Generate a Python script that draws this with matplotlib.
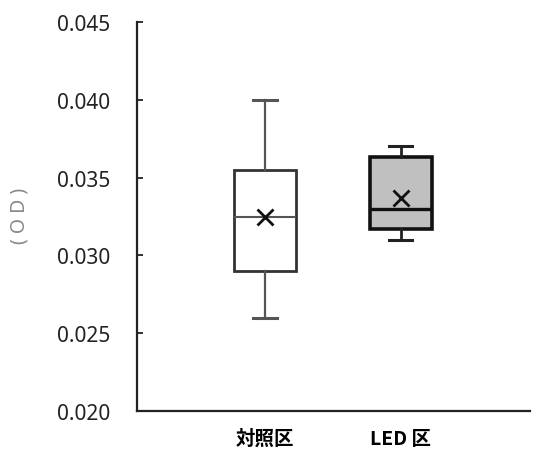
import matplotlib
matplotlib.use("Agg")
import matplotlib.pyplot as plt

categories = ["対照区", "LED 区"]
whislo = [0.0260, 0.0310]
q1 = [0.0290, 0.0317]
med = [0.0325, 0.0330]
q3 = [0.0355, 0.0363]
whishi = [0.0400, 0.0370]
mean = [0.0325, 0.0337]
yticks = [0.020, 0.025, 0.030, 0.035, 0.040, 0.045]
ylabel = "( O D )"

plt.rcParams['font.family'] = ['Noto Sans', 'Noto Sans CJK JP', 'DejaVu Sans']

fig = plt.figure(figsize=(5.35, 4.52), dpi=100)
ax = fig.add_axes([0.256, 0.0885, 0.7346, 0.8606])

styles = [
    dict(face="white", edge="#333333", lw=2.0, wcol="#555555", wlw=1.6, mcol="#555555", mlw=1.5),
    dict(face="#c0c0c0", edge="#111111", lw=2.6, wcol="#222222", wlw=2.0, mcol="#111111", mlw=2.4),
]
for i in range(len(categories)):
    st = dict(med=med[i], q1=q1[i], q3=q3[i], whislo=whislo[i], whishi=whishi[i],
              mean=mean[i], fliers=[], label=categories[i])
    s = styles[i]
    ax.bxp([st], positions=[i + 1], widths=0.45, patch_artist=True, showmeans=True,
           boxprops=dict(facecolor=s["face"], edgecolor=s["edge"], linewidth=s["lw"]),
           whiskerprops=dict(color=s["wcol"], linewidth=s["wlw"]),
           capprops=dict(color=s["wcol"], linewidth=2.2),
           capwidths=0.17,
           medianprops=dict(color=s["mcol"], linewidth=s["mlw"]),
           meanprops=dict(marker="x", markeredgecolor="#111111", markersize=12, markeredgewidth=2.0))

ax.set_xlim(0.0588, 2.949)
ax.set_ylim(0.020, 0.045)
ax.set_yticks(yticks)
ax.set_yticklabels([f"{v:.3f}" for v in yticks], fontsize=15, color="#222222")
ax.set_xticks([1, 2])
ax.set_xticklabels(categories, fontsize=14, fontweight="bold",
                   family=['Noto Sans CJK JP', 'DejaVu Sans'])
ax.tick_params(axis="x", length=0, pad=13)
ax.tick_params(axis="y", direction="in", length=4, width=1.3, pad=19, color="#222222")
for side in ["top", "right"]:
    ax.spines[side].set_visible(False)
for side in ["left", "bottom"]:
    ax.spines[side].set_linewidth(1.6)
    ax.spines[side].set_color("#222222")

fig.text(0.036, 0.522, ylabel, rotation=90, fontsize=14, color="#8a8a8a",
         ha="center", va="center")

fig.savefig("out.png", dpi=100)
